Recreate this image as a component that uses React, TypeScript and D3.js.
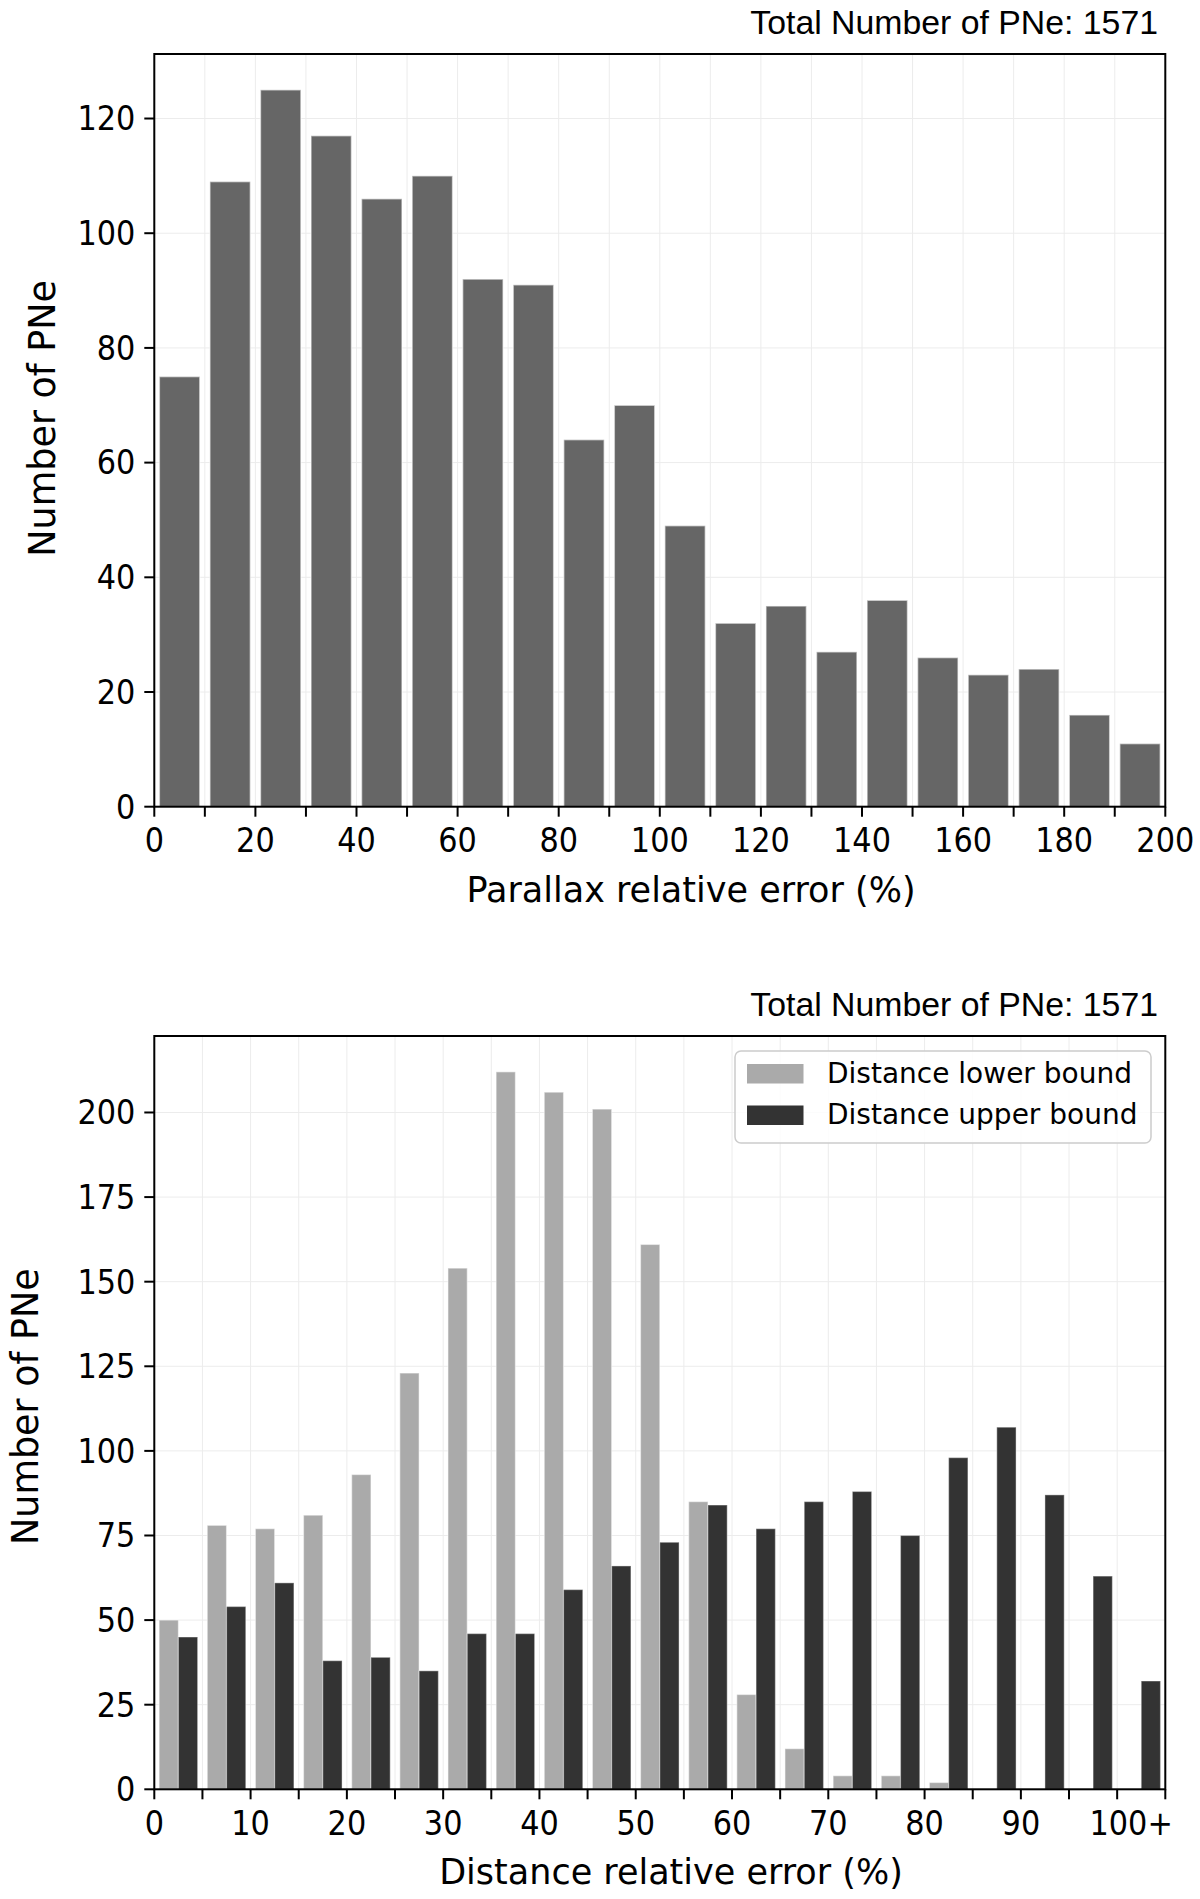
import React from "react";
import * as d3 from "d3";

// ---------- DATA ----------
const parallaxBinStarts = [0, 10, 20, 30, 40, 50, 60, 70, 80, 90, 100, 110, 120, 130, 140, 150, 160, 170, 180, 190];
const parallaxCounts = [75, 109, 125, 117, 106, 110, 92, 91, 64, 70, 49, 32, 35, 27, 36, 26, 23, 24, 16, 11];
const parallaxXTickLabels = ["0", "20", "40", "60", "80", "100", "120", "140", "160", "180", "200"];
const parallaxYTicks = [0, 20, 40, 60, 80, 100, 120];

const distBinStarts = [0, 5, 10, 15, 20, 25, 30, 35, 40, 45, 50, 55, 60, 65, 70, 75, 80, 85, 90, 95, 100];
const distLower = [50, 78, 77, 81, 93, 123, 154, 212, 206, 201, 161, 85, 28, 12, 4, 4, 2, 0, 0, 0, 0];
const distUpper = [45, 54, 61, 38, 39, 35, 46, 46, 59, 66, 73, 84, 77, 85, 88, 75, 98, 107, 87, 63, 32];
const distXTickLabels = ["0", "10", "20", "30", "40", "50", "60", "70", "80", "90", "100+"];
const distYTicks = [0, 25, 50, 75, 100, 125, 150, 175, 200];

const seriesNames = ["Distance lower bound", "Distance upper bound"];
const titleText = "Total Number of PNe: 1571";

// ---------- STYLE ----------
const FONT = "DejaVu Sans";
const TITLE_FONT = "Liberation Sans";
const TICK_SIZE = 33;
const TICK_SX = 0.92;
const LABEL_SIZE = 35;
const GRID = "#ececec";
const C_TOP = "#666666";
const C_LIGHT = "#aaaaaa";
const C_DARK = "#333333";

const L = 154.3;
const R = 1165.3;

function Frame({ top, bottom }: { top: number; bottom: number }) {
  return (
    <rect x={L} y={top} width={R - L} height={bottom - top} fill="none" stroke="#000" strokeWidth={2} />
  );
}

function TickText({ x, y, anchor, children, dy }: { x: number; y: number; anchor: string; children: any; dy?: string }) {
  return (
    <text transform={`translate(${x},${y}) scale(${TICK_SX},1)`} dy={dy} fontFamily={FONT} fontSize={TICK_SIZE}
      textAnchor={anchor}>
      {children}
    </text>
  );
}

function TopChart() {
  const top = 54;
  const bottom = 806.7;
  const x = d3.scaleLinear().domain([0, 200]).range([L, R]);
  const yMax = d3.max(parallaxCounts)! * 1.05;
  const y = d3.scaleLinear().domain([0, yMax]).range([bottom, top]);
  const xTicks = d3.range(0, 201, 10);
  const labeled = d3.range(0, 201, 20);
  const binW = 10;
  return (
    <g>
      {xTicks.map((t) => (
        <line key={"gx" + t} x1={x(t)} x2={x(t)} y1={top} y2={bottom} stroke={GRID} strokeWidth={1} />
      ))}
      {parallaxYTicks.map((t) => (
        <line key={"gy" + t} x1={L} x2={R} y1={y(t)} y2={y(t)} stroke={GRID} strokeWidth={1} />
      ))}
      {parallaxCounts.map((c, i) => {
        const s = parallaxBinStarts[i];
        const x0 = x(s + binW * 0.1);
        const x1 = x(s + binW * 0.9);
        return (
          <rect key={"b" + i} x={x0} y={y(c)} width={x1 - x0} height={y(0) - y(c)} fill={C_TOP}
            stroke="rgba(255,255,255,0.55)" strokeWidth={1.5} />
        );
      })}
      <Frame top={top} bottom={bottom} />
      {xTicks.map((t) => (
        <line key={"tx" + t} x1={x(t)} x2={x(t)} y1={bottom} y2={bottom + 10} stroke="#000" strokeWidth={2} />
      ))}
      {labeled.map((t, i) => (
        <TickText key={"lx" + t} x={x(t)} y={bottom + 45.5} anchor="middle">
          {parallaxXTickLabels[i]}
        </TickText>
      ))}
      {parallaxYTicks.map((t) => (
        <g key={"ty" + t}>
          <line x1={L - 10} x2={L} y1={y(t)} y2={y(t)} stroke="#000" strokeWidth={2} />
          <TickText x={L - 19} y={y(t)} dy="0.36em" anchor="end">
            {t}
          </TickText>
        </g>
      ))}
      <text x={1158} y={34} fontFamily={TITLE_FONT} fontSize={33.8} textAnchor="end">{titleText}</text>
      <text x={691} y={902} fontFamily={FONT} fontSize={LABEL_SIZE} textAnchor="middle">
        Parallax relative error (%)
      </text>
      <text transform={`translate(55, ${(top + bottom) / 2 - 12}) rotate(-90)`} fontFamily={FONT}
        fontSize={36.5} textAnchor="middle">
        Number of PNe
      </text>
    </g>
  );
}

function BottomChart() {
  const top = 1036;
  const bottom = 1789.3;
  const x = d3.scaleLinear().domain([0, 105]).range([L, R]);
  const yMax = Math.max(d3.max(distLower)!, d3.max(distUpper)!) * 1.05;
  const y = d3.scaleLinear().domain([0, yMax]).range([bottom, top]);
  const xTicks = d3.range(0, 106, 5);
  const labeled = d3.range(0, 101, 10);
  const binW = 5;
  return (
    <g>
      {xTicks.map((t) => (
        <line key={"gx" + t} x1={x(t)} x2={x(t)} y1={top} y2={bottom} stroke={GRID} strokeWidth={1} />
      ))}
      {distYTicks.map((t) => (
        <line key={"gy" + t} x1={L} x2={R} y1={y(t)} y2={y(t)} stroke={GRID} strokeWidth={1} />
      ))}
      {distBinStarts.map((s, i) => {
        const a0 = x(s + binW * 0.1);
        const a1 = x(s + binW * 0.5);
        const b1 = x(s + binW * 0.9);
        return (
          <g key={"b" + i}>
            {distLower[i] > 0 && (
              <rect x={a0} y={y(distLower[i])} width={a1 - a0} height={y(0) - y(distLower[i])} fill={C_LIGHT}
                stroke="rgba(255,255,255,0.45)" strokeWidth={1.2} />
            )}
            {distUpper[i] > 0 && (
              <rect x={a1} y={y(distUpper[i])} width={b1 - a1} height={y(0) - y(distUpper[i])} fill={C_DARK}
                stroke="rgba(255,255,255,0.35)" strokeWidth={1.2} />
            )}
          </g>
        );
      })}
      <Frame top={top} bottom={bottom} />
      {xTicks.map((t) => (
        <line key={"tx" + t} x1={x(t)} x2={x(t)} y1={bottom} y2={bottom + 10} stroke="#000" strokeWidth={2} />
      ))}
      {labeled.map((t, i) => {
        const lab = distXTickLabels[i];
        const extra = lab.endsWith("+") ? 14 : 0;
        return (
          <TickText key={"lx" + t} x={x(t) + extra} y={bottom + 46} anchor="middle">
            {lab}
          </TickText>
        );
      })}
      {distYTicks.map((t) => (
        <g key={"ty" + t}>
          <line x1={L - 10} x2={L} y1={y(t)} y2={y(t)} stroke="#000" strokeWidth={2} />
          <TickText x={L - 19} y={y(t)} dy="0.36em" anchor="end">
            {t}
          </TickText>
        </g>
      ))}
      <text x={1158} y={1016} fontFamily={TITLE_FONT} fontSize={33.8} textAnchor="end">{titleText}</text>
      <text x={671} y={1884} fontFamily={FONT} fontSize={LABEL_SIZE} textAnchor="middle">
        Distance relative error (%)
      </text>
      <text transform={`translate(38, ${(top + bottom) / 2 - 6}) rotate(-90)`} fontFamily={FONT}
        fontSize={36.5} textAnchor="middle">
        Number of PNe
      </text>
      {/* legend */}
      <g>
        <rect x={735} y={1051} width={416} height={92} rx={6} ry={6} fill="rgba(255,255,255,0.85)"
          stroke="#cccccc" strokeWidth={1.5} />
        {seriesNames.map((n, i) => (
          <g key={n}>
            <rect x={747} y={1064 + i * 41.5} width={56.5} height={19.5} fill={i === 0 ? C_LIGHT : C_DARK} />
            <text x={827} y={1082.7 + i * 41.5} fontFamily={FONT} fontSize={28}>{n}</text>
          </g>
        ))}
      </g>
    </g>
  );
}

export default function App() {
  return (
    <svg width={1200} height={1899} viewBox="0 0 1200 1899"
      style={{ position: "absolute", left: 0, top: 0, background: "#fff" }}>
      <rect x={0} y={0} width={1200} height={1899} fill="#fff" />
      <TopChart />
      <BottomChart />
    </svg>
  );
}
